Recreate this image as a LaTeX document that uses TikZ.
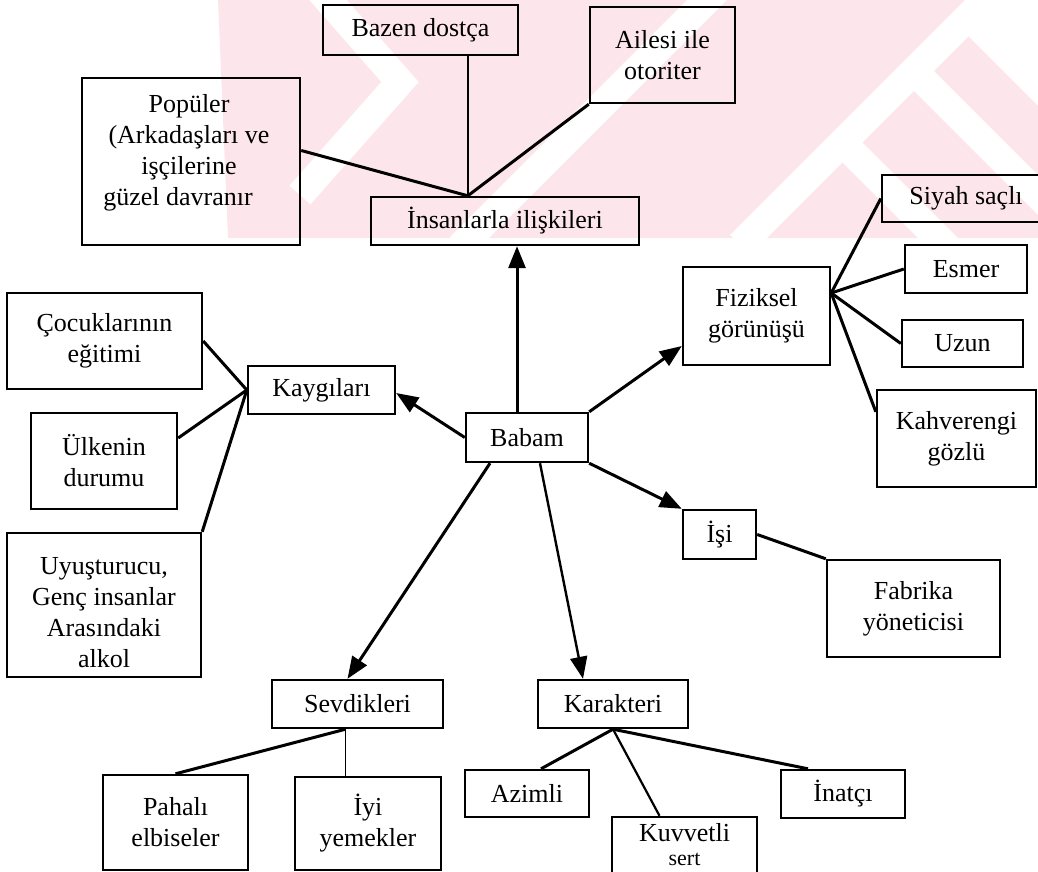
\documentclass[tikz,border=0pt]{standalone}
\usepackage{fontspec}
\setmainfont{Liberation Serif}
\usetikzlibrary{arrows.meta,calc}
\definecolor{wmpink}{RGB}{252,230,235}
\tikzset{
  box/.style={draw, line width=2.4pt, inner sep=0pt, align=center,
    font=\fontsize{26}{31}\selectfont},
  txt/.style={inner sep=0pt, align=center, font=\fontsize{26}{31}\selectfont},
  link/.style={line width=3pt},
  thinlink/.style={line width=1.8pt},
  arrowlink/.style={line width=3pt, -{Triangle[length=22pt,width=17pt]}},
  wstripe/.style={white, line width=28pt, line cap=butt, line join=miter},
}
\begin{document}
\begin{tikzpicture}[x=1pt,y=-1pt]
\useasboundingbox (0,0) rectangle (1038,872);
\clip (0,0) rectangle (1038,872);

% faint watermark behind the upper part
\begin{scope}
  \clip (0,0) rectangle (1038,238);
  \fill[wmpink] (218,0) -- (983,0) -- (957,25) -- (1038,106) -- (1038,238) -- (228,238) -- cycle;
  \draw[wstripe] (1000,-15) -- (740,245);
  \draw[wstripe] (913,70) -- (1070,227);
  \draw[wstripe] (842,142) -- (950,250);
  \draw[wstripe] (720,-13) -- (460,247);
  \draw[wstripe] (315,-15) -- (400,82) -- (300,195);
\end{scope}

% boxes (x from the left, y from the top)
\node[box, minimum width=195, minimum height=50] (bazen) at (420.5,30) {Bazen dostça};
\node[box, minimum width=145, minimum height=96] (ailesi) at (662.5,55) {Ailesi ile\\otoriter};
\node[box, minimum width=218, minimum height=167] (pop) at (191,161.5) {};
\node[txt] (popt) at (189,153) {Popüler\\(Arkadaşları ve\\işçilerine\\güzel davranır\hspace*{22pt}};
\node[box, minimum width=268, minimum height=48] (ins) at (505,221) {İnsanlarla ilişkileri};

\node[box, minimum width=122, minimum height=49] (babam) at (527,437.5) {Babam};
\node[box, minimum width=147, minimum height=48] (kayg) at (321.5,390) {Kaygıları};
\node[box, minimum width=195, minimum height=96] (coc) at (104.5,341) {Çocuklarının\\eğitimi};
\node[box, minimum width=146, minimum height=96] (ulke) at (104,461) {Ülkenin\\durumu};
\node[box, minimum width=194, minimum height=144] (uyus) at (104,605) {};
\node[txt] (uyust) at (104,613) {Uyuşturucu,\\Genç insanlar\\Arasındaki\\alkol};

\node[box, minimum width=147, minimum height=98] (fiz) at (756.5,316) {Fiziksel\\görünüşü};
\node[box, minimum width=168, minimum height=47] (siyah) at (966,198.5) {Siyah saçlı};
\node[box, minimum width=122, minimum height=48] (esmer) at (966,269) {Esmer};
\node[box, minimum width=121, minimum height=47] (uzun) at (962.5,343.5) {Uzun};
\node[box, minimum width=159, minimum height=97] (kahve) at (956.5,438.5) {Kahverengi\\gözlü};

\node[box, minimum width=73, minimum height=49] (isi) at (719.5,534.5) {İşi};
\node[box, minimum width=173, minimum height=97] (fab) at (913.5,608.5) {Fabrika\\yöneticisi};

\node[box, minimum width=171, minimum height=48] (sev) at (357.5,704) {Sevdikleri};
\node[box, minimum width=150, minimum height=48] (kar) at (613,704) {Karakteri};
\node[box, minimum width=145, minimum height=95] (pah) at (175.5,822.5) {Pahalı\\elbiseler};
\node[box, minimum width=146, minimum height=93] (iyi) at (368,823.5) {İyi\\yemekler};
\node[box, minimum width=124, minimum height=47] (azim) at (527,793.5) {Azimli};
\node[box, minimum width=145, minimum height=90] (kuvv) at (684.5,862) {};
\node[txt, font=\fontsize{26}{24}\selectfont] (kuvvt) at (684.5,845) {Kuvvetli\\{\fontsize{22}{24}\selectfont sert}};
\node[box, minimum width=124, minimum height=48] (inat) at (843,794) {İnatçı};

% junction points on the box edges
\coordinate (jins) at ($(ins.north west)+(98,0)$);
\coordinate (jkayg) at (kayg.west);
\coordinate (jfiz) at ($(fiz.east)+(0,-23)$);
\coordinate (jsev) at ($(sev.south)+(-12,0)$);
\coordinate (jkar) at (kar.south);

% relations
\draw[link] ([yshift=11pt]pop.east) -- (jins);
\draw[thinlink] (bazen.south -| jins) -- (jins);
\draw[link] (ailesi.south west) -- (jins);
\draw[arrowlink] ($(babam.north)+(-10,0)$) -- ($(ins.south)+(12,0)$);

% worries
\draw[arrowlink] (babam.west) -- ($(kayg.east)+(0,3)$);
\draw[link] (coc.east) -- (jkayg);
\draw[link] ($(ulke.east)+(0,-23)$) -- (jkayg);
\draw[link] (uyus.north east) -- (jkayg);

% appearance
\draw[arrowlink] (babam.north east) -- ($(fiz.west)+(0,30)$);
\draw[link] (jfiz) -- (siyah.west);
\draw[link] (jfiz) -- (esmer.west);
\draw[link] (jfiz) -- (uzun.west);
\draw[link] (jfiz) -- ($(kahve.north west)+(0,23)$);

% work
\draw[arrowlink] (babam.south east) -- (isi.north west);
\draw[link] (isi.east) -- (fab.north west);

% likes
\draw[arrowlink] ($(babam.south)+(-37,0)$) -- ($(sev.north)+(-10,0)$);
\draw[link] (jsev) -- (pah.north);
\draw[thinlink] (jsev) -- (iyi.north -| jsev);

% character
\draw[arrowlink, line width=2.4pt] ($(babam.south)+(13,0)$) -- ($(kar.north)+(-30,0)$);
\draw[link] (jkar) -- ($(azim.north)+(14,0)$);
\draw[link, line width=2.2pt] (jkar) -- ($(kuvv.north)+(-25,0)$);
\draw[link] (jkar) -- ($(inat.north)+(-35,0)$);
\end{tikzpicture}
\end{document}
